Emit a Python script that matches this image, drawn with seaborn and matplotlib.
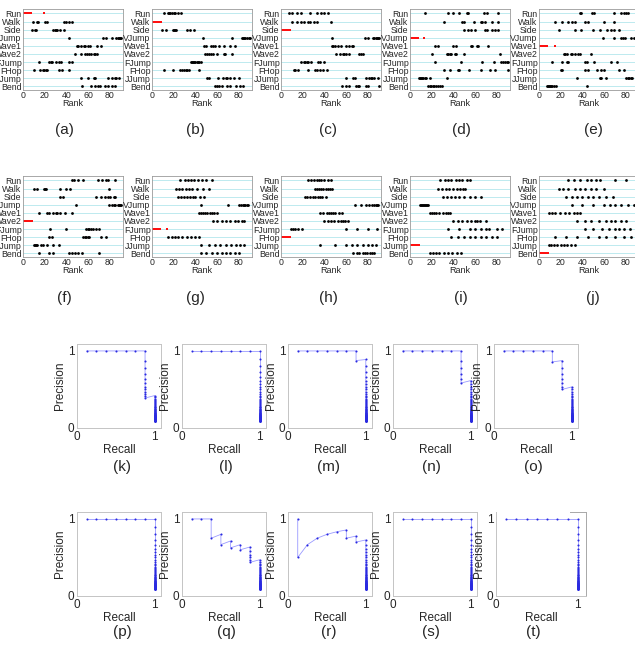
import numpy as np
import pandas as pd
import matplotlib
matplotlib.use("Agg")
import matplotlib.pyplot as plt
import seaborn as sns

sns.set_theme(style="white")
plt.rcParams["font.family"] = ["Liberation Sans", "DejaVu Sans"]

# ---------------- data ----------------
categories = ["Run", "Walk", "Side", "VJump", "Wave1", "Wave2",
              "FJump", "FHop", "JJump", "Bend"]
rank_labels = ["(a)", "(b)", "(c)", "(d)", "(e)", "(f)", "(g)", "(h)", "(i)", "(j)"]
pr_labels = ["(k)", "(l)", "(m)", "(n)", "(o)", "(p)", "(q)", "(r)", "(s)", "(t)"]
rank_ticks = [0, 20, 40, 60, 80]
n_ranked = 89

# ranks of each category's sequences for each query panel (category order)
ranks_a = [[1, 2, 3, 4, 5, 6, 7, 19],
           [9, 13, 14, 20, 22, 38, 40, 42, 45],
           [8, 11, 12, 28, 29, 30, 31, 34, 38],
           [42, 74, 76, 82, 86, 87, 88, 89, 90],
           [50, 51, 53, 56, 57, 60, 62, 68, 72],
           [48, 53, 57, 59, 61, 63, 65, 66, 68],
           [15, 24, 26, 27, 30, 33, 35, 42, 45],
           [10, 16, 18, 19, 21, 22, 33, 36, 42],
           [53, 60, 65, 66, 78, 82, 85, 86, 88],
           [54, 63, 66, 69, 71, 75, 78, 82, 85]]
ranks_b = [[11, 15, 16, 17, 18, 20, 21, 24, 27],
           [1, 2, 3, 4, 5, 6, 7, 8],
           [9, 13, 19, 20, 21, 22, 32, 35, 39],
           [47, 74, 83, 84, 85, 86, 87, 89, 90],
           [48, 50, 54, 56, 58, 62, 66, 72, 76],
           [49, 51, 52, 54, 56, 60, 66, 67, 74],
           [36, 37, 38, 39, 40, 41, 42, 43, 45],
           [11, 19, 26, 28, 29, 31, 32, 34, 43],
           [51, 52, 61, 65, 68, 69, 72, 75, 80],
           [58, 60, 62, 64, 69, 72, 77, 81, 84]]
ranks_c = [[7, 10, 15, 18, 27, 33, 37, 40, 43],
           [10, 15, 18, 21, 25, 27, 30, 33, 46],
           [1, 2, 3, 4, 5, 6, 7, 8],
           [47, 77, 80, 85, 86, 87, 88, 89, 90],
           [47, 48, 50, 52, 55, 60, 63, 65, 66],
           [51, 54, 57, 58, 60, 63, 72, 74, 75],
           [18, 21, 22, 24, 25, 28, 34, 36, 40],
           [12, 13, 16, 25, 31, 33, 36, 39, 42],
           [60, 66, 68, 78, 81, 83, 84, 86, 89],
           [56, 60, 63, 69, 71, 72, 78, 80, 90]]
ranks_d = [[14, 35, 40, 45, 52, 53, 68, 71, 81],
           [31, 48, 50, 59, 65, 66, 69, 75, 81],
           [50, 53, 56, 60, 69, 71, 75, 78, 81],
           [1, 2, 3, 4, 5, 6, 7, 13],
           [23, 26, 40, 42, 56, 57, 62, 63, 72],
           [20, 34, 35, 37, 38, 41, 42, 50, 83],
           [23, 47, 66, 77, 84, 86, 87, 89, 90],
           [31, 37, 44, 45, 54, 65, 74, 78, 90],
           [8, 9, 10, 11, 12, 14, 15, 18, 34],
           [17, 18, 19, 21, 22, 24, 26, 28, 29]]
ranks_e = [[38, 39, 49, 51, 69, 75, 78, 80, 82],
           [15, 21, 27, 30, 33, 42, 45, 60, 69],
           [18, 33, 39, 50, 56, 63, 66, 69, 74],
           [59, 69, 75, 77, 79, 85, 87, 89, 90],
           [1, 2, 3, 4, 5, 6, 7, 15],
           [23, 24, 26, 29, 30, 33, 36, 38, 48],
           [12, 21, 26, 27, 42, 44, 51, 66, 72],
           [20, 21, 42, 45, 53, 57, 60, 74, 78],
           [35, 56, 57, 62, 80, 82, 83, 85, 86],
           [7, 8, 9, 10, 11, 12, 14, 16, 44]]
ranks_f = [[45, 47, 51, 55, 69, 73, 76, 78, 85],
           [10, 13, 19, 20, 21, 34, 40, 43, 79],
           [34, 37, 67, 72, 75, 78, 80, 84, 85],
           [49, 79, 82, 84, 85, 87, 88, 89, 90],
           [15, 22, 24, 28, 30, 31, 34, 39, 45],
           [1, 2, 3, 4, 5, 6, 7, 8],
           [25, 40, 58, 60, 61, 63, 64, 67, 70],
           [24, 27, 55, 57, 58, 60, 61, 72, 76],
           [10, 11, 12, 13, 17, 18, 22, 28, 33],
           [15, 24, 28, 42, 45, 48, 51, 54, 70]]
ranks_g = [[26, 30, 33, 36, 39, 42, 46, 50, 55],
           [22, 25, 28, 31, 34, 37, 41, 47, 52],
           [24, 27, 29, 32, 35, 38, 40, 44, 48],
           [45, 70, 80, 82, 84, 85, 86, 87, 88],
           [43, 45, 47, 49, 51, 53, 55, 57, 60],
           [56, 60, 64, 68, 72, 76, 79, 83, 85],
           [1, 2, 3, 4, 5, 6, 7, 14],
           [15, 18, 21, 24, 28, 32, 36, 40, 43],
           [45, 52, 58, 63, 68, 73, 77, 81, 85],
           [45, 50, 55, 60, 64, 68, 72, 76, 80]]
ranks_h = [[25, 28, 30, 33, 35, 37, 40, 43, 46],
           [31, 33, 35, 37, 39, 41, 43, 45, 47],
           [22, 24, 27, 29, 31, 34, 36, 38, 41],
           [68, 74, 78, 81, 84, 86, 87, 88, 89],
           [36, 39, 42, 44, 46, 48, 50, 53, 56],
           [40, 43, 46, 49, 52, 55, 57, 59, 62],
           [9, 11, 13, 16, 19, 60, 70, 80, 88],
           [1, 2, 3, 4, 5, 6, 7, 8],
           [36, 50, 60, 65, 70, 75, 80, 84, 87],
           [66, 70, 72, 75, 77, 79, 82, 84, 86]]
ranks_i = [[28, 32, 35, 38, 42, 45, 48, 52, 55],
           [26, 29, 33, 36, 40, 43, 46, 49, 51],
           [30, 34, 38, 41, 45, 50, 55, 60, 65],
           [9, 10, 11, 12, 13, 14, 15, 16, 17],
           [18, 20, 22, 24, 27, 30, 33, 35, 37],
           [40, 44, 48, 52, 56, 60, 62, 64, 70],
           [35, 45, 55, 60, 65, 70, 73, 80, 85],
           [38, 44, 50, 55, 60, 65, 70, 75, 80],
           [1, 2, 3, 4, 5, 6, 7, 8],
           [18, 21, 24, 27, 31, 35, 39, 43, 47]]
ranks_j = [[27, 32, 38, 44, 48, 52, 56, 70, 80],
           [18, 22, 27, 33, 38, 42, 48, 52, 60],
           [25, 30, 35, 40, 45, 50, 55, 62, 68],
           [30, 40, 50, 60, 65, 70, 75, 82, 87],
           [9, 12, 15, 19, 24, 28, 32, 35, 38],
           [35, 42, 48, 55, 62, 66, 70, 75, 80],
           [42, 50, 58, 64, 70, 74, 78, 84, 89],
           [15, 25, 35, 45, 55, 62, 70, 78, 85],
           [9, 11, 14, 17, 20, 23, 26, 29, 33],
           [1, 2, 3, 4, 5, 6, 7, 8]]
rank_panels = [ranks_a, ranks_b, ranks_c, ranks_d, ranks_e,
               ranks_f, ranks_g, ranks_h, ranks_i, ranks_j]

# ranks of the relevant items in each precision-recall panel
pr_k = [1, 2, 3, 4, 5, 6, 7, 19]
pr_l = [1, 2, 3, 4, 5, 6, 7, 8]
pr_m = [1, 2, 3, 4, 5, 6, 7, 9]
pr_n = [1, 2, 3, 4, 5, 6, 7, 13]
pr_o = [1, 2, 3, 4, 5, 6, 8, 15]
pr_p = [1, 2, 3, 4, 5, 6, 7, 8]
pr_q = [1, 2, 3, 5, 7, 9, 11, 17]
pr_r = [1, 3, 4, 5, 6, 7, 9, 11]
pr_s = [1, 2, 3, 4, 5, 6, 7, 8]
pr_t = [1, 2, 3, 4, 5, 6, 7, 8]
pr_panels = [pr_k, pr_l, pr_m, pr_n, pr_o, pr_p, pr_q, pr_r, pr_s, pr_t]

# ---------------- layout ----------------
W, H = 635, 649
fig = plt.figure(figsize=(W / 100, H / 100), dpi=100)


def add_axes(left, top, width, height):
    return fig.add_axes([left / W, 1 - (top + height) / H, width / W, height / H])


rank_lefts = [23, 152, 281, 410, 539]
rank_tops = [9, 176]
rank_label_x = [64, 195, 328, 461, 593]
rank_label_y = [130, 298]

for i, data in enumerate(rank_panels):
    row, col = divmod(i, 5)
    ax = add_axes(rank_lefts[col], rank_tops[row], 100, 81)
    recs = []
    for ci, vals in enumerate(data):
        for v in vals:
            recs.append({"rank": v, "pos": ci + 1, "query": ci == i})
    df = pd.DataFrame(recs)
    ax.set_yticks(range(1, 11))
    ax.set_yticklabels(categories)
    ax.yaxis.grid(True, color="#b3e6ec", lw=0.6)
    ax.xaxis.grid(False)
    ax.set_axisbelow(True)
    sns.scatterplot(data=df[~df["query"]], x="rank", y="pos", color="black",
                    s=4, marker="o", linewidth=0, ax=ax, legend=False)
    sns.scatterplot(data=df[df["query"]], x="rank", y="pos", color="#ff1010",
                    s=4.5, marker="s", linewidth=0, ax=ax, legend=False)
    ax.set_xlim(0, 92)
    ax.set_ylim(10.45, 0.45)
    ax.set_xticks(rank_ticks)
    ax.set_xticklabels([str(t) for t in rank_ticks])
    ax.tick_params(axis="both", labelsize=6.3, length=0, pad=1)
    ax.set_xlabel("Rank", fontsize=6.5, labelpad=-1)
    ax.set_ylabel("")
    for sp in ax.spines.values():
        sp.set_color("#9a9a9a")
        sp.set_linewidth(0.6)
    fig.text(rank_label_x[col] / W, 1 - rank_label_y[row] / H, rank_labels[i],
             ha="center", va="center", fontsize=11)

pr_lefts = [77, 182, 288, 393, 494]
pr_tops = [344, 512]
pr_label_x = [122, 226, 329, 431, 533]
pr_label_y = [467, 632]

for i, rel in enumerate(pr_panels):
    row, col = divmod(i, 5)
    is_t = (i == 9)
    width = 90 if is_t else 84
    left = 496 if is_t else pr_lefts[col]
    ax = add_axes(left, pr_tops[row], width, 84)
    pos = np.arange(1, n_ranked + 1)
    hits = np.isin(pos, rel).cumsum()
    df = pd.DataFrame({"recall": hits / len(rel), "precision": hits / pos})
    sns.lineplot(data=df, x="recall", y="precision", sort=False, estimator=None,
                 color="#9a9aff", lw=0.6, marker="o", markersize=1.5,
                 markeredgewidth=0, markerfacecolor="#2a2ae0", ax=ax)
    xmax = 1.1 if is_t else 1.08
    ax.set_xlim(0, xmax)
    ax.set_ylim(0, 1.09)
    ax.set_xticks([0, 1])
    ax.set_yticks([0, 1])
    ax.set_xticklabels(["0", "1"])
    ax.set_yticklabels(["0", "1"])
    ax.tick_params(axis="both", labelsize=8.5, length=0, pad=2)
    ax.set_xlabel("Recall", fontsize=8.5, labelpad=1)
    ax.set_ylabel("Precision", fontsize=8.5, labelpad=1)
    for sp in ax.spines.values():
        sp.set_color("#c4c4c4")
        sp.set_linewidth(0.7)
    if is_t:
        ax.spines["top"].set_bounds(0.9, xmax)
        ax.spines["top"].set_color("#a8a8a8")
        ax.spines["right"].set_color("#a8a8a8")
    fig.text(pr_label_x[col] / W, 1 - pr_label_y[row] / H, pr_labels[i],
             ha="center", va="center", fontsize=11)

fig.savefig("out.png", dpi=100)
